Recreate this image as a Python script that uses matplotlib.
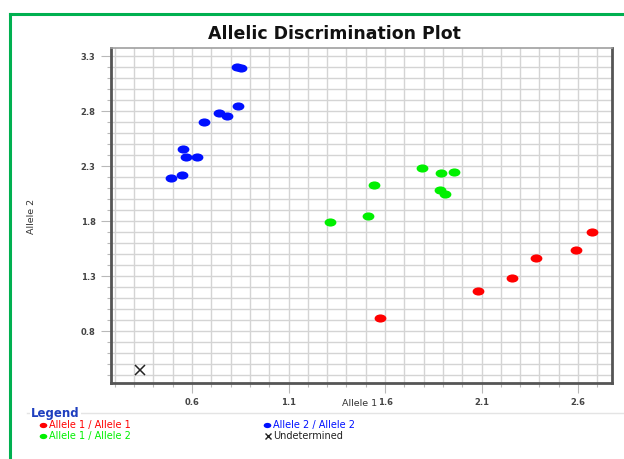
"""
Allelic discrimination plot (Allele 1 vs Allele 2 signal).
"""
import matplotlib
matplotlib.use("Agg")
import matplotlib.pyplot as plt
from matplotlib.markers import MarkerStyle
from matplotlib.path import Path
from matplotlib.transforms import Affine2D
from matplotlib.lines import Line2D
import numpy as np

# Data
hom1_x = [1.574, 2.08, 2.258, 2.38, 2.59, 2.67]
hom1_y = [0.918, 1.164, 1.282, 1.464, 1.536, 1.70]

het_x = [1.315, 1.512, 1.543, 1.79, 1.885, 1.91, 1.89, 1.957]
het_y = [1.79, 1.845, 2.127, 2.28, 2.08, 2.045, 2.236, 2.245]

hom2_x = [0.49, 0.548, 0.569, 0.626, 0.553, 0.662, 0.74, 0.78, 0.838, 0.833, 0.854]
hom2_y = [2.19, 2.218, 2.38, 2.38, 2.455, 2.70, 2.78, 2.755, 2.845, 3.20, 3.19]

undet_x = [0.33]
undet_y = [0.445]

x_ticks = [0.6, 1.1, 1.6, 2.1, 2.6]
y_ticks = [0.8, 1.3, 1.8, 2.3, 2.8, 3.3]

RED = "#ff0000"
GREEN = "#00f000"
BLUE = "#0010ff"
FONT = ["DejaVu Sans"]

# Elliptical dot like the instrument software draws
ellipse = MarkerStyle(Path.unit_circle().transformed(Affine2D().scale(1.45, 1.0)))


def fig_xy(px, py):
    """Pixel position in the 624x459 canvas -> figure fraction."""
    return px / 624, 1 - py / 459


fig = plt.figure(figsize=(6.24, 4.59), dpi=100)
fig.patch.set_facecolor("white")

# Green frame round the panel (open to right and bottom)
fig.add_artist(Line2D([10 / 624, 10 / 624], [0, 1 - 14 / 459], transform=fig.transFigure,
                      color="#00b050", linewidth=2.2))
fig.add_artist(Line2D([10 / 624, 1], [1 - 14 / 459, 1 - 14 / 459], transform=fig.transFigure,
                      color="#00b050", linewidth=2.2))

ax = fig.add_axes([111 / 624, 1 - 383 / 459, 501 / 624, 335 / 459])
ax.set_xlim(0.18, 2.776)
ax.set_ylim(0.33, 3.375)

ax.set_xticks(x_ticks)
ax.set_yticks(y_ticks)
ax.set_xticks(np.arange(0.2, 2.78, 0.1), minor=True)
ax.set_yticks(np.arange(0.4, 3.38, 0.1), minor=True)
ax.set_xticklabels([f"{v:.1f}" for v in x_ticks])
ax.set_yticklabels([f"{v:.1f}" for v in y_ticks])
ax.grid(True, which="both", color="#d4d4d4", linewidth=1.0)
ax.set_axisbelow(True)
ax.tick_params(which="major", length=7, width=0.8, color="#b8b8b8", labelsize=6,
               labelcolor="#444444", pad=4)
ax.tick_params(which="minor", length=3, width=0.8, color="#b8b8b8")
for lab in ax.get_xticklabels() + ax.get_yticklabels():
    lab.set_fontfamily(FONT)
    lab.set_fontweight("bold")

for side in ["left", "bottom", "right"]:
    ax.spines[side].set_color("#555555")
    ax.spines[side].set_linewidth(2.0)
ax.spines["top"].set_color("#a0a0a0")
ax.spines["top"].set_linewidth(1.2)

ax.plot(hom1_x, hom1_y, linestyle="none", marker=ellipse, markersize=8.5,
        color=RED, markeredgewidth=0)
ax.plot(het_x, het_y, linestyle="none", marker=ellipse, markersize=8.5,
        color=GREEN, markeredgewidth=0)
ax.plot(hom2_x, hom2_y, linestyle="none", marker=ellipse, markersize=8.5,
        color=BLUE, markeredgewidth=0)
ax.plot(undet_x, undet_y, linestyle="none", marker="x", markersize=7,
        color="#222222", markeredgewidth=1.1)

fig.text(*fig_xy(334, 34), "Allelic Discrimination Plot", ha="center", va="center",
         fontsize=12.5, fontweight="bold", family=FONT, color="#111111")
fig.text(*fig_xy(360, 404), "Allele 1", ha="center", va="center",
         fontsize=6.8, family=FONT, color="#333333")
fig.text(*fig_xy(32, 216), "Allele 2", ha="center", va="center", rotation=90,
         fontsize=6.8, family=FONT, color="#333333")

# Legend block
fig.add_artist(Line2D([27 / 624, 1], [1 - 413 / 459, 1 - 413 / 459], transform=fig.transFigure,
                      color="#e4e4e4", linewidth=1.0))
fig.text(*fig_xy(31, 414), "Legend", ha="left", va="center", fontsize=8.5,
         fontweight="bold", family=FONT, color="#1f3fbf",
         bbox=dict(facecolor="white", edgecolor="none", pad=1))

legend_items = [
    (43, 425, RED, "Allele 1 / Allele 1"),
    (43, 436, GREEN, "Allele 1 / Allele 2"),
    (267, 425, BLUE, "Allele 2 / Allele 2"),
]
for lx, ly, col, txt in legend_items:
    fig.add_artist(Line2D([lx / 624], [1 - ly / 459], transform=fig.transFigure,
                          marker=ellipse, markersize=5.5, color=col, markeredgewidth=0,
                          linestyle="none"))
    fig.text(*fig_xy(lx + 6, ly), txt, ha="left", va="center", fontsize=7,
             family=FONT, color=col)
fig.add_artist(Line2D([268 / 624], [1 - 436 / 459], transform=fig.transFigure,
                      marker="x", markersize=5, color="#222222", markeredgewidth=1.0,
                      linestyle="none"))
fig.text(*fig_xy(273, 436), "Undetermined", ha="left", va="center", fontsize=7,
         family=FONT, color="#222222")

fig.savefig("out.png", dpi=100)
